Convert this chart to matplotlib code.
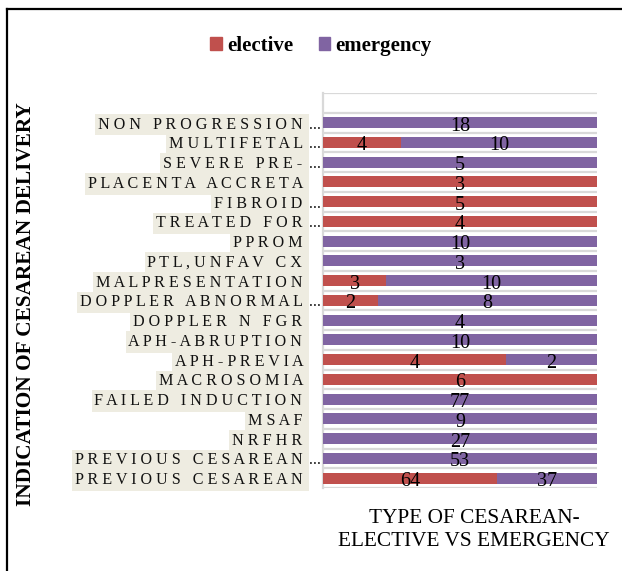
import matplotlib
matplotlib.use("Agg")
import matplotlib.pyplot as plt
from matplotlib.lines import Line2D
from matplotlib.patches import Patch
from matplotlib.transforms import blended_transform_factory, offset_copy
import numpy as np

# ---- data (top to bottom as shown) ----
categories = ["NON PROGRESSION", "MULTIFETAL", "SEVERE PRE-", "PLACENTA ACCRETA",
              "FIBROID", "TREATED FOR", "PPROM", "PTL,UNFAV CX", "MALPRESENTATION",
              "DOPPLER ABNORMAL", "DOPPLER N FGR", "APH-ABRUPTION", "APH-PREVIA",
              "MACROSOMIA", "FAILED INDUCTION", "MSAF", "NRFHR",
              "PREVIOUS CESAREAN", "PREVIOUS CESAREAN"]
truncated = [True, True, True, False, True, True, False, False, False,
             True, False, False, False, False, False, False, False, True, False]
elective = [0, 4, 0, 3, 5, 4, 0, 0, 3, 2, 0, 0, 4, 6, 0, 0, 0, 0, 64]
emergency = [18, 10, 5, 0, 0, 0, 10, 3, 10, 8, 4, 10, 2, 0, 77, 9, 27, 53, 37]
series_names = ["elective", "emergency"]
colors = ["#C0504D", "#8064A2"]

# reverse so that first category is at top
cats = categories[::-1]
trunc = truncated[::-1]
el = np.array(elective[::-1], dtype=float)
em = np.array(emergency[::-1], dtype=float)
tot = el + em
el_p = el / tot * 100
em_p = em / tot * 100
n = len(cats)
y = np.arange(n)

serif = "Liberation Serif"

fig = plt.figure(figsize=(6.22, 5.71), dpi=100)
W, H = 622, 571
ax = fig.add_axes([323 / W, 1 - 488 / H, (597 - 323) / W, (488 - 93) / H])

bh = 0.55
ax.barh(y, el_p, height=bh, color=colors[0], label=series_names[0], zorder=3)
ax.barh(y, em_p, left=el_p, height=bh, color=colors[1], label=series_names[1], zorder=3)

lab_kw = dict(ha="center", va="center_baseline", fontsize=14.5, family=serif, color="black", zorder=4)
for i in range(n):
    if el[i] > 0:
        ax.text(el_p[i] / 2, y[i] - 0.05, f"{int(el[i])}", **lab_kw)
    if em[i] > 0:
        ax.text(el_p[i] + em_p[i] / 2, y[i] - 0.05, f"{int(em[i])}", **lab_kw)

ax.set_xlim(0, 100)
ax.set_ylim(-0.5, n + 0.5)
ax.set_xticks([])
ax.set_yticks(y)


def spaced(s):
    words = s.split(" ")
    return "   ".join(" ".join(list(w)) for w in words) + " "


ax.set_yticklabels([spaced(c) for c in cats], family=serif, fontsize=11.6, color="#111111")
for t in ax.get_yticklabels():
    t.set_bbox(dict(boxstyle="square,pad=0.17", fc="#EEECE1", ec="none"))
ax.tick_params(axis="y", length=0, pad=12)

# ellipsis leaders for truncated labels
tr = offset_copy(blended_transform_factory(ax.transAxes, ax.transData), fig=fig, x=-14, y=0, units="dots")
for i in range(n):
    if trunc[i]:
        ax.text(0, y[i], "...", transform=tr, ha="left", va="center_baseline",
                family=serif, fontsize=11.6, color="#111111", clip_on=False)

# gridlines at category boundaries
ax.set_yticks(np.arange(-0.5, n + 1, 1.0), minor=True)
ax.tick_params(axis="y", which="minor", length=0)
ax.grid(which="minor", axis="y", color="#D9D9D9", lw=1.6, zorder=1)
ax.grid(which="major", visible=False)
for s in ["top", "right", "bottom"]:
    ax.spines[s].set_visible(False)
ax.spines["left"].set_color("#D9D9D9")
ax.spines["left"].set_linewidth(1.6)

# axis titles
fig.text(26 / W, 1 - 304.5 / H, "INDICATION OF CESAREAN DELIVERY", rotation=90,
         ha="center", va="center", family=serif, fontsize=15.3, fontweight="bold")
fig.text(474 / W, 1 - 530 / H, "TYPE OF CESAREAN-\nELECTIVE VS EMERGENCY",
         ha="center", va="center", multialignment="center", family=serif, fontsize=15.3,
         linespacing=1.25)

# legend
handles = [Patch(color=c, label=s) for c, s in zip(colors, series_names)]
fig.legend(handles=handles, loc="center", bbox_to_anchor=(321 / W, 1 - 46 / H), ncol=2,
           frameon=False, handlelength=0.55, handleheight=0.55, handletextpad=0.25,
           columnspacing=1.25, prop={"family": serif, "weight": "bold", "size": 15})

# outer frame (left and top edges visible)
fig.add_artist(Line2D([7 / W, 7 / W], [0, 1 - 8.5 / H], transform=fig.transFigure, color="black", lw=1.6))
fig.add_artist(Line2D([7 / W, 1], [1 - 8.5 / H, 1 - 8.5 / H], transform=fig.transFigure, color="black", lw=1.6))

fig.savefig("out.png", dpi=100, facecolor="white")
